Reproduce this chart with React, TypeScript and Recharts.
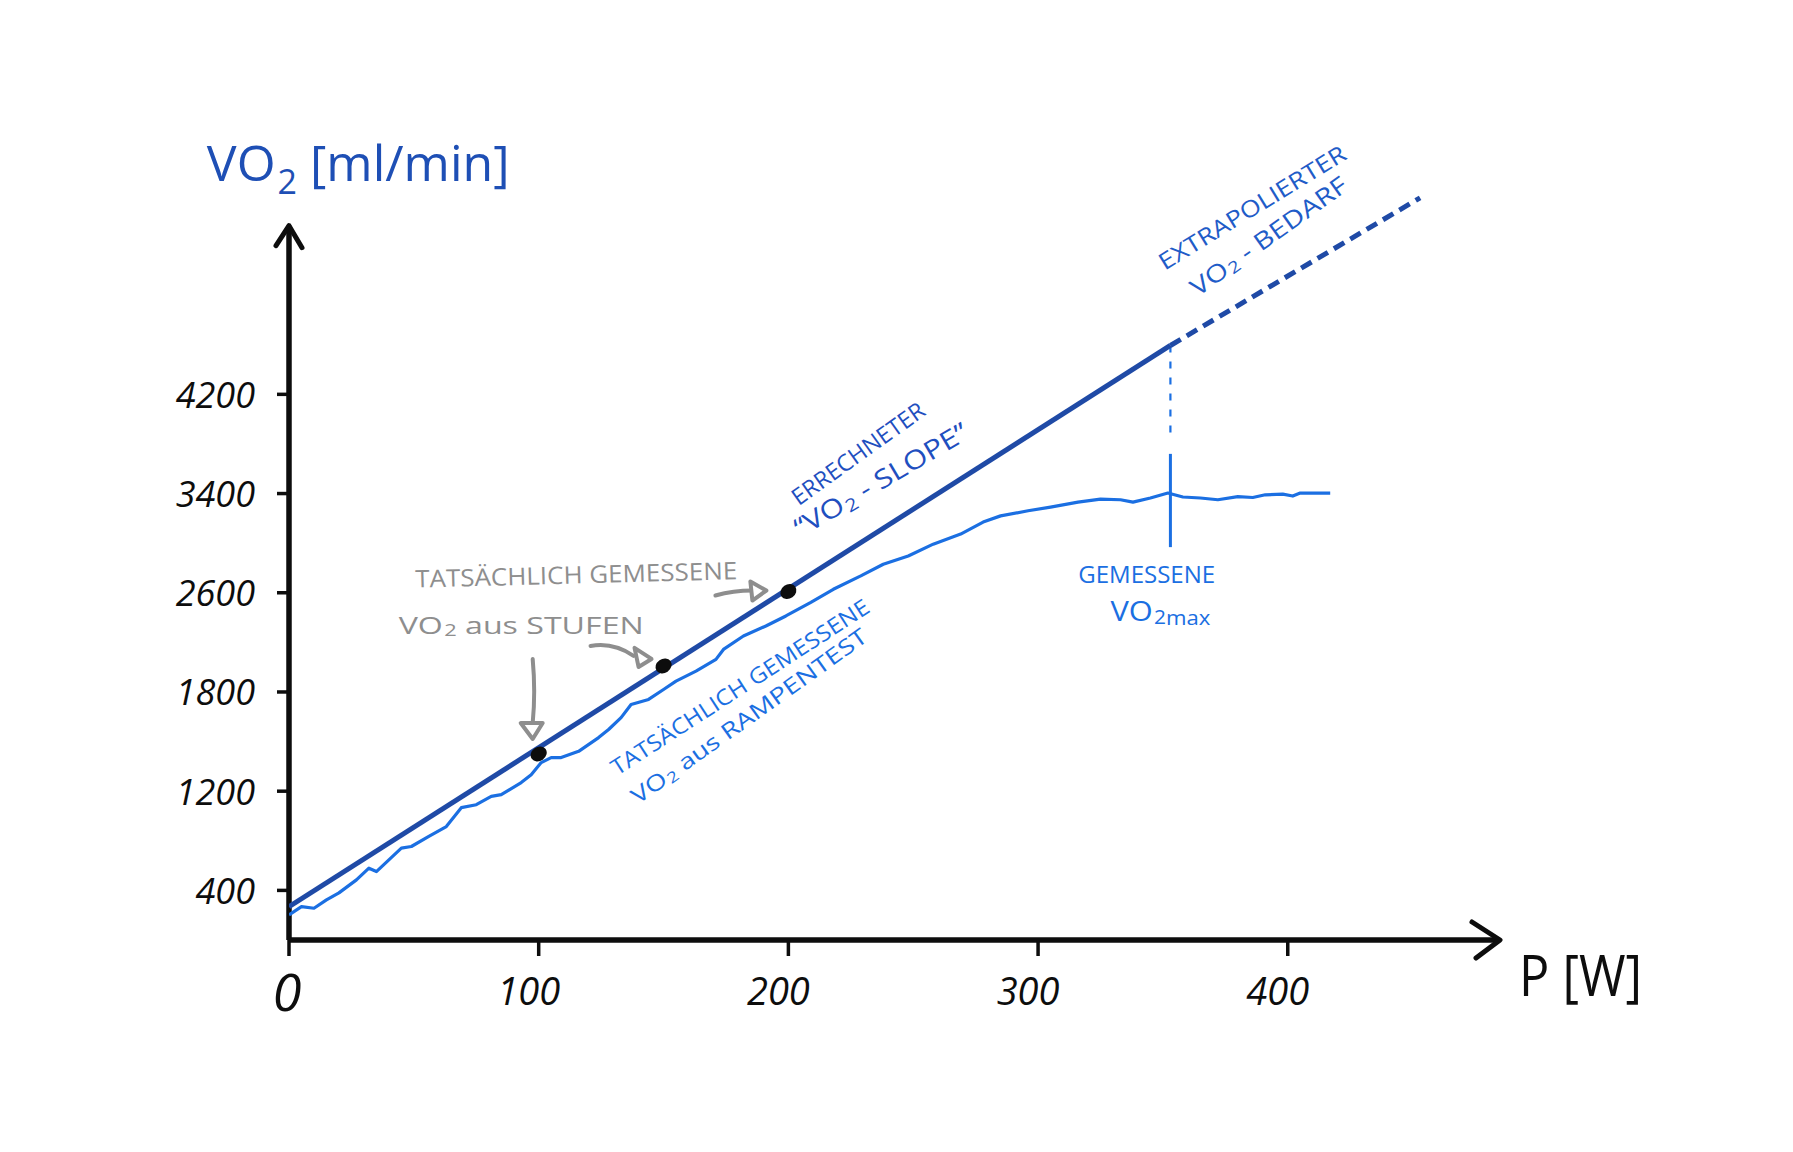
import type { ReactNode } from 'react';
import { ComposedChart, Line, ReferenceDot, ReferenceLine, Scatter, XAxis, YAxis } from 'recharts';

// y axis of the sketch is not linear: every label sits one tick-step apart
const yTickLabels = [400, 1200, 1800, 2600, 3400, 4200];
const xTicks = [0, 100, 200, 300, 400];

// measured VO2 from the ramp test (W, ml/min)
const rampWatts = [
  0, 5, 10, 15, 20, 27, 32, 35, 40, 45, 49, 56, 63, 69, 75, 81, 85, 93, 97, 101, 105, 109, 116, 124, 128, 133,
  137, 144, 150, 155, 163, 171, 174, 182, 191, 199, 209, 218, 229, 238, 248, 258, 269, 278, 285, 296, 305, 316,
  325, 333, 338, 345, 352, 358, 365, 372, 380, 386, 391, 398, 402, 405, 417
];
const rampVo2 = [
  202, 269, 256, 323, 380, 485, 579, 552, 646, 741, 754, 835, 915, 1067, 1091, 1158, 1172, 1252, 1300, 1373, 1403,
  1403, 1441, 1524, 1573, 1645, 1724, 1755, 1820, 1887, 1968, 2063, 2143, 2251, 2332, 2413, 2523, 2628, 2736, 2830,
  2897, 2992, 3073, 3170, 3220, 3261, 3291, 3331, 3355, 3350, 3331, 3364, 3404, 3372, 3364, 3350, 3375, 3368, 3390,
  3395, 3380, 3404, 3404
];

// VO2 measured at the end of each step
const stepWatts = [100, 150, 200];
const stepVo2 = [1425, 2010, 2610];

// computed slope and its extrapolation
const slopeWatts = [0, 353];
const slopeVo2 = [269, 4594];
const extraWatts = [353, 453];
const extraVo2 = [4594, 5785];

// VO2max marker
const vo2maxWatts = 353;
const vo2maxGuide = [4594, 3840];
const vo2maxMark = [3720, 2968];

const AXIS_END_W = 485;
const AXIS_END_P = 7.2;

const INK = '#0d0d0d';
const SLOPE = '#1f4aa6';
const RAMP = '#1b6fe2';
const TITLE = '#1e4fb5';
const DARK_NOTE = '#1f4fbf';
const MID_NOTE = '#1f5cc8';
const GRAY = '#8e8e8e';
const FONT = "'Open Sans', 'DejaVu Sans', sans-serif";

function toPos(v: number) {
  const n = yTickLabels.length;
  let i = 0;
  if (v >= yTickLabels[n - 1]) i = n - 2;
  else if (v > yTickLabels[0]) {
    while (v > yTickLabels[i + 1]) i++;
  }
  const a = yTickLabels[i];
  const b = yTickLabels[i + 1];
  return i + 0.5 + (v - a) / (b - a);
}

const rows = (ws: number[], vs: number[]) => ws.map((w, i) => ({ w, y: toPos(vs[i]) }));

const rampRows = rows(rampWatts, rampVo2);
const stepRows = rows(stepWatts, stepVo2);
const slopeRows = rows(slopeWatts, slopeVo2);
const extraRows = rows(extraWatts, extraVo2);
const guideRows = rows([vo2maxWatts, vo2maxWatts], vo2maxGuide);
const markRows = rows([vo2maxWatts, vo2maxWatts], vo2maxMark);

function vo2(size: number, rest = '', restSmall = false) {
  return [
    <tspan key="a">VO</tspan>,
    <tspan key="b" fontSize={size * 0.68} dx={size * 0.04} dy={size * 0.26}>
      2
    </tspan>,
    restSmall ? (
      <tspan key="c" fontSize={size * 0.72}>
        {rest}
      </tspan>
    ) : (
      <tspan key="c" dy={-size * 0.26}>
        {rest}
      </tspan>
    )
  ];
}

type Note = {
  w: number;
  p: number;
  angle: number;
  size: number;
  length: number;
  color: string;
  content: ReactNode;
};

const notes: Note[] = [
  { w: 227.7, p: 4.91, angle: -35.7, size: 23, length: 158, color: DARK_NOTE, content: 'ERRECHNETER' },
  { w: 236.9, p: 4.647, angle: -30.5, size: 26, length: 197, color: DARK_NOTE, content: ['\u201C', ...vo2(26, ' - SLOPE\u201D')] },
  { w: 385.6, p: 7.39, angle: -31.5, size: 23, length: 215, color: MID_NOTE, content: 'EXTRAPOLIERTER' },
  { w: 392, p: 7.107, angle: -35.4, size: 24, length: 186, color: MID_NOTE, content: vo2(24, ' - BEDARF') },
  { w: 115, p: 3.69, angle: -1.5, size: 24, length: 322, color: GRAY, content: 'TATSÄCHLICH GEMESSENE' },
  { w: 93, p: 3.185, angle: 0, size: 24, length: 245, color: GRAY, content: vo2(24, ' aus STUFEN') },
  { w: 180.4, p: 2.56, angle: -33, size: 22, length: 303, color: RAMP, content: 'TATSÄCHLICH GEMESSENE' },
  { w: 184, p: 2.268, angle: -35.5, size: 22, length: 284, color: RAMP, content: vo2(22, ' aus RAMPENTEST') },
  { w: 343.5, p: 3.69, angle: 0, size: 24, length: 137, color: RAMP, content: 'GEMESSENE' },
  { w: 349, p: 3.327, angle: 0, size: 28, length: 100, color: RAMP, content: vo2(28, 'max', true) }
];

// gray pointer arrows, drawn relative to the step dot they point at
const pointers = [
  { shaft: 'M -6 -95 Q -3 -62 -6 -31', head: 'M -18 -31 L 4 -31 L -6 -15 Z' },
  { shaft: 'M -73 -20 Q -50 -24 -30 -10', head: 'M -29 -18 L -25 1 L -12 -7 Z' },
  { shaft: 'M -73 4 Q -55 -1 -36 -1', head: 'M -38 -10 L -36 9 L -22 -1 Z' }
];

function YTick(props: any) {
  const { x, y, payload } = props;
  const label = yTickLabels[Math.round(payload.value - 0.5)];
  return (
    <text x={x} y={y} textAnchor="end" dominantBaseline="central" fontFamily={FONT} fontStyle="italic" fontSize={36} fill={INK}>
      {label}
    </text>
  );
}

function XTick(props: any) {
  const { x, y, payload } = props;
  const zero = payload.value === 0;
  return (
    <text
      x={zero ? x - 2 : x - 10}
      y={y + 14}
      textAnchor="middle"
      dominantBaseline="central"
      fontFamily={FONT}
      fontStyle="italic"
      fontSize={zero ? 52 : 38}
      fill={INK}
    >
      {payload.value}
    </text>
  );
}

function StepDot(props: any) {
  const { cx, cy } = props;
  return <ellipse cx={cx} cy={cy} rx={8.5} ry={7} transform={`rotate(-35 ${cx} ${cy})`} fill={INK} />;
}

export default function App() {
  return (
    <div style={{ width: 1777, height: 1136, background: '#fff' }}>
      <ComposedChart width={1777} height={1136} margin={{ top: 178, right: 285, bottom: 104, left: 161 }}>
        <XAxis
          dataKey="w"
          type="number"
          domain={[0, AXIS_END_W]}
          ticks={xTicks}
          allowDataOverflow
          height={100}
          axisLine={false}
          tickSize={16}
          tickMargin={20}
          tickLine={{ stroke: INK, strokeWidth: 3.5 }}
          tick={<XTick />}
        />
        <YAxis
          dataKey="y"
          type="number"
          domain={[0, 7.6]}
          ticks={yTickLabels.map((_, i) => i + 0.5)}
          allowDataOverflow
          width={120}
          axisLine={false}
          tickSize={12}
          tickMargin={22}
          tickLine={{ stroke: INK, strokeWidth: 3.5 }}
          tick={<YTick />}
        />

        <ReferenceLine segment={[{ x: 0, y: 0 }, { x: AXIS_END_W, y: 0 }]} stroke={INK} strokeWidth={5.5} ifOverflow="visible" />
        <ReferenceLine segment={[{ x: 0, y: 0 }, { x: 0, y: AXIS_END_P }]} stroke={INK} strokeWidth={5.5} ifOverflow="visible" />
        <ReferenceDot
          x={AXIS_END_W}
          y={0}
          r={0}
          ifOverflow="visible"
          shape={(p: any) => (
            <path d={`M ${p.cx - 28} ${p.cy - 18} L ${p.cx} ${p.cy} L ${p.cx - 24} ${p.cy + 18}`} fill="none" stroke={INK} strokeWidth={5} strokeLinecap="round" strokeLinejoin="round" />
          )}
        />
        <ReferenceDot
          x={0}
          y={AXIS_END_P}
          r={0}
          ifOverflow="visible"
          shape={(p: any) => (
            <path d={`M ${p.cx - 13} ${p.cy + 20} L ${p.cx} ${p.cy} L ${p.cx + 13} ${p.cy + 22}`} fill="none" stroke={INK} strokeWidth={5} strokeLinecap="round" strokeLinejoin="round" />
          )}
        />

        <Line data={guideRows} dataKey="y" type="linear" stroke={RAMP} strokeWidth={2.2} strokeDasharray="7 9" dot={false} isAnimationActive={false} />
        <Line data={markRows} dataKey="y" type="linear" stroke={RAMP} strokeWidth={3} dot={false} isAnimationActive={false} />
        <Line data={rampRows} dataKey="y" type="linear" stroke={RAMP} strokeWidth={3.2} strokeLinejoin="round" dot={false} isAnimationActive={false} />
        <Line data={slopeRows} dataKey="y" type="linear" stroke={SLOPE} strokeWidth={5} dot={false} isAnimationActive={false} />
        <Line data={extraRows} dataKey="y" type="linear" stroke={SLOPE} strokeWidth={5} strokeDasharray="12 7" dot={false} isAnimationActive={false} />
        <Scatter data={stepRows} dataKey="y" shape={<StepDot />} isAnimationActive={false} />

        {stepRows.map((s, i) => (
          <ReferenceDot
            key={`ptr-${i}`}
            x={s.w}
            y={s.y}
            r={0}
            ifOverflow="visible"
            shape={(p: any) => (
              <g transform={`translate(${p.cx} ${p.cy})`} stroke={GRAY} strokeWidth={4} strokeLinecap="round" strokeLinejoin="round">
                <path d={pointers[i].shaft} fill="none" />
                <path d={pointers[i].head} fill="#fff" />
              </g>
            )}
          />
        ))}

        {notes.map((n, i) => (
          <ReferenceDot
            key={`note-${i}`}
            x={n.w}
            y={n.p}
            r={0}
            ifOverflow="visible"
            shape={(p: any) => (
              <text
                x={p.cx}
                y={p.cy}
                transform={`rotate(${n.angle} ${p.cx} ${p.cy})`}
                textAnchor="middle"
                dominantBaseline="central"
                fontFamily={FONT}
                fontWeight={500}
                fontSize={n.size}
                fill={n.color}
                textLength={n.length}
                lengthAdjust="spacingAndGlyphs"
              >
                {n.content}
              </text>
            )}
          />
        ))}

        <ReferenceDot
          x={-32.9}
          y={7.651}
          r={0}
          ifOverflow="visible"
          shape={(p: any) => (
            <text x={p.cx} y={p.cy} fontFamily={FONT} fontWeight={500} fontSize={50} fill={TITLE}>
              {vo2(50, ' [ml/min]')}
            </text>
          )}
        />
        <ReferenceDot
          x={492.6}
          y={-0.565}
          r={0}
          ifOverflow="visible"
          shape={(p: any) => (
            <text x={p.cx} y={p.cy} fontFamily={FONT} fontWeight={500} fontSize={56} fill={INK} textLength={123} lengthAdjust="spacingAndGlyphs">
              P [W]
            </text>
          )}
        />
      </ComposedChart>
    </div>
  );
}
